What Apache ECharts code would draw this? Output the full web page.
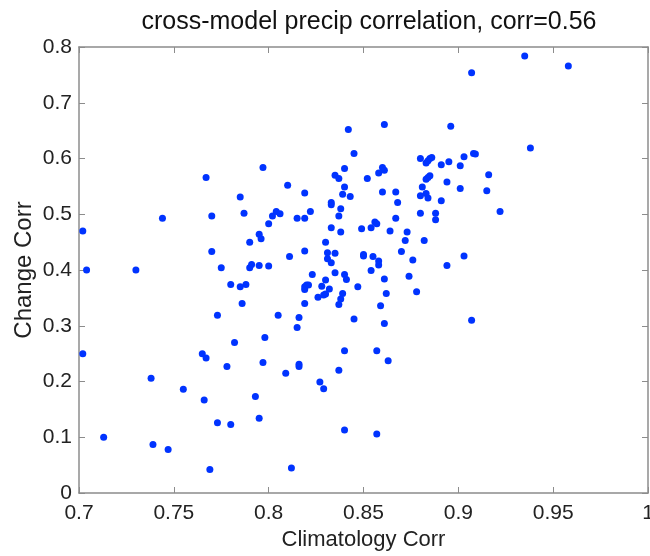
<!DOCTYPE html>
<html>
<head>
<meta charset="utf-8">
<script src="https://cdn.jsdelivr.net/npm/echarts@6/dist/echarts.min.js"></script>
<style>
  html, body { margin: 0; padding: 0; background: #fff; }
  #chart { width: 650px; height: 556px; }
</style>
</head>
<body>
<div id="chart"></div>
<script>
// climatology correlation (x) per model pair
const climCorr = [
  0.797, 0.767, 0.785, 0.744, 0.770, 0.787, 0.802, 0.702, 0.800, 0.795,
  0.796, 0.790, 0.770, 0.704, 0.730, 0.775, 0.780, 0.785, 0.788, 0.790,
  0.791, 0.795, 0.800, 0.786, 0.773, 0.798, 0.782, 0.702, 0.765, 0.767,
  0.778, 0.797, 0.738, 0.755, 0.766, 0.793, 0.795, 0.773, 0.780, 0.713,
  0.739, 0.747, 0.769, 0.805, 0.842, 0.861, 0.896, 0.845, 0.880, 0.883,
  0.884, 0.885, 0.886, 0.891, 0.895, 0.901, 0.903, 0.840, 0.835, 0.837,
  0.852, 0.858, 0.860, 0.861, 0.883, 0.884, 0.885, 0.894, 0.901, 0.840,
  0.839, 0.843, 0.860, 0.867, 0.868, 0.881, 0.880, 0.883, 0.884, 0.891,
  0.810, 0.819, 0.833, 0.833, 0.838, 0.837, 0.804, 0.806, 0.815, 0.819,
  0.822, 0.833, 0.838, 0.849, 0.854, 0.856, 0.857, 0.864, 0.867, 0.873,
  0.872, 0.880, 0.888, 0.888, 0.882, 0.830, 0.831, 0.835, 0.831, 0.833,
  0.819, 0.811, 0.850, 0.850, 0.855, 0.858, 0.858, 0.870, 0.876, 0.894,
  0.903, 0.854, 0.823, 0.835, 0.830, 0.840, 0.841, 0.861, 0.874, 0.819,
  0.820, 0.819, 0.821, 0.828, 0.832, 0.830, 0.829, 0.826, 0.839, 0.838,
  0.837, 0.847, 0.862, 0.859, 0.878, 0.819, 0.816, 0.815, 0.845, 0.861,
  0.840, 0.857, 0.863, 0.809, 0.816, 0.816, 0.837, 0.827, 0.829, 0.840,
  0.857, 0.812, 0.935, 0.958, 0.907, 0.938, 0.908, 0.909, 0.916, 0.915,
  0.922, 0.907
];

// change correlation (y), same order
const changeCorr = [
  0.584, 0.566, 0.531, 0.493, 0.497, 0.502, 0.497, 0.470, 0.483, 0.464,
  0.456, 0.450, 0.433, 0.400, 0.400, 0.404, 0.374, 0.370, 0.374, 0.404,
  0.410, 0.408, 0.407, 0.340, 0.319, 0.279, 0.270, 0.250, 0.250, 0.242,
  0.227, 0.234, 0.206, 0.186, 0.167, 0.173, 0.134, 0.126, 0.123, 0.100,
  0.087, 0.078, 0.042, 0.319, 0.652, 0.661, 0.658, 0.609, 0.600, 0.592,
  0.596, 0.600, 0.602, 0.589, 0.594, 0.587, 0.603, 0.582, 0.570, 0.564,
  0.564, 0.574, 0.584, 0.579, 0.563, 0.566, 0.569, 0.558, 0.546, 0.549,
  0.536, 0.532, 0.540, 0.540, 0.521, 0.549, 0.533, 0.537, 0.529, 0.524,
  0.552, 0.538, 0.521, 0.517, 0.510, 0.497, 0.505, 0.501, 0.493, 0.493,
  0.505, 0.476, 0.468, 0.474, 0.476, 0.486, 0.483, 0.470, 0.493, 0.468,
  0.453, 0.502, 0.502, 0.490, 0.453, 0.450, 0.431, 0.430, 0.420, 0.413,
  0.434, 0.424, 0.428, 0.425, 0.424, 0.416, 0.409, 0.433, 0.418, 0.408,
  0.425, 0.399, 0.392, 0.395, 0.382, 0.392, 0.383, 0.384, 0.389, 0.370,
  0.373, 0.365, 0.373, 0.371, 0.366, 0.357, 0.355, 0.351, 0.358, 0.348,
  0.338, 0.370, 0.358, 0.336, 0.361, 0.340, 0.315, 0.297, 0.312, 0.304,
  0.255, 0.255, 0.237, 0.215, 0.231, 0.227, 0.220, 0.199, 0.187, 0.113,
  0.106, 0.045, 0.784, 0.766, 0.754, 0.619, 0.609, 0.608, 0.571, 0.542,
  0.505, 0.310
];

const xTicks = [0.7, 0.75, 0.8, 0.85, 0.9, 0.95, 1];
const yTicks = [0, 0.1, 0.2, 0.3, 0.4, 0.5, 0.6, 0.7, 0.8];

const font = "'Liberation Sans', Arial, sans-serif";
const frameColor = '#8c8c8c';

const points = climCorr.map((x, i) => [x, changeCorr[i]]);

const baseX = {
  type: 'value',
  min: xTicks[0],
  max: xTicks[xTicks.length - 1],
  interval: 0.05,
  splitLine: { show: false },
  axisLine: { show: true, onZero: false, lineStyle: { color: frameColor, width: 1.5 } },
  axisTick: { show: true, inside: true, length: 6, lineStyle: { color: frameColor } }
};
const baseY = {
  type: 'value',
  min: yTicks[0],
  max: yTicks[yTicks.length - 1],
  interval: 0.1,
  splitLine: { show: false },
  axisLine: { show: true, onZero: false, lineStyle: { color: frameColor, width: 1.5 } },
  axisTick: { show: true, inside: true, length: 6, lineStyle: { color: frameColor } }
};

const chart = echarts.init(document.getElementById('chart'));
chart.setOption({
  backgroundColor: '#fff',
  animation: false,
  title: {
    text: 'cross-model precip correlation, corr=0.56',
    left: 364,
    textAlign: 'center',
    top: 5,
    textStyle: { fontFamily: font, fontSize: 25, fontWeight: 'normal', color: '#111' }
  },
  grid: { left: 79, right: 2, top: 47, bottom: 63, outerBoundsMode: 'none', containLabel: false },
  xAxis: [
    Object.assign({}, baseX, {
      position: 'bottom',
      name: 'Climatology Corr',
      nameLocation: 'middle',
      nameGap: 36,
      nameMoveOverlap: false,
      nameTextStyle: { fontFamily: font, fontSize: 22, color: '#222' },
      axisLabel: {
        fontFamily: font, fontSize: 21, color: '#222', margin: 10,
        formatter: v => String(+v.toFixed(2))
      }
    }),
    Object.assign({}, baseX, { position: 'top', axisLabel: { show: false } })
  ],
  yAxis: [
    Object.assign({}, baseY, {
      position: 'left',
      name: 'Change Corr',
      nameLocation: 'middle',
      nameGap: 43,
      nameMoveOverlap: false,
      nameTextStyle: { fontFamily: font, fontSize: 24, color: '#222' },
      axisLabel: {
        fontFamily: font, fontSize: 21, color: '#222', margin: 7,
        formatter: v => String(+v.toFixed(1))
      }
    }),
    Object.assign({}, baseY, { position: 'right', axisLabel: { show: false } })
  ],
  series: [{
    type: 'scatter',
    xAxisIndex: 0,
    yAxisIndex: 0,
    symbol: 'circle',
    symbolSize: 7,
    itemStyle: { color: '#0033ff', opacity: 1 },
    data: points
  }]
});
</script>
</body>
</html>
